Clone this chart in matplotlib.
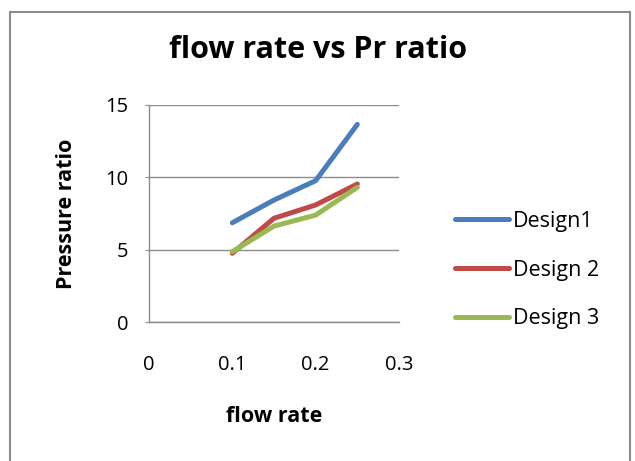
import matplotlib.pyplot as plt
from matplotlib.patches import Rectangle

flow = [0.1, 0.15, 0.2, 0.25]
design1 = [6.86, 8.43, 9.77, 13.66]
design2 = [4.75, 7.17, 8.09, 9.54]
design3 = [4.86, 6.63, 7.39, 9.31]
names = ['Design1', 'Design 2', 'Design 3']
colors = ['#4a7ebb', '#be4b48', '#98b954']

plt.rcParams['font.family'] = ['Open Sans', 'DejaVu Sans']

W, H = 635, 461
fig = plt.figure(figsize=(W / 100, H / 100), dpi=100)
fig.patches.append(Rectangle((10 / W, -0.01), 620 / W, 1 - 12 / H + 0.01,
                             transform=fig.transFigure, fill=False,
                             edgecolor='#8c8c8c', linewidth=1.5))

ax = fig.add_axes([149 / W, 1 - 322 / H, 250 / W, 217 / H])
for ys, name, c in zip([design1, design2, design3], names, colors):
    ax.plot(flow, ys, color=c, linewidth=3.6, label=name, solid_capstyle='round')

ax.set_xlim(0, 0.3)
ax.set_ylim(0, 15)
ax.set_xticks([0, 0.1, 0.2, 0.3])
ax.set_xticklabels(['0', '0.1', '0.2', '0.3'])
ax.set_yticks([0, 5, 10, 15])
ax.grid(axis='y', color='#8c8c8c', linewidth=1)
ax.set_axisbelow(True)
for s in ['top', 'right']:
    ax.spines[s].set_visible(False)
for s in ['left', 'bottom']:
    ax.spines[s].set_color('#8c8c8c')
    ax.spines[s].set_linewidth(1)
ax.tick_params(axis='y', length=3, color='#8c8c8c', labelsize=14.5, pad=12)
ax.tick_params(axis='x', length=0, labelsize=14.5, pad=24)

ax.set_xlabel('flow rate', fontsize=15.5, fontweight='bold', labelpad=22)
ax.set_ylabel('Pressure ratio', fontsize=15.5, fontweight='bold', labelpad=20)
fig.text(318 / W, 1 - 50 / H, 'flow rate vs Pr ratio', fontsize=22,
         fontweight='bold', ha='center', va='center')

fig.legend(loc='center left', bbox_to_anchor=(455 / W, 1 - 270 / H),
           frameon=False, fontsize=15.5, handlelength=2.5, labelspacing=1.3,
           handletextpad=0.2, borderpad=0, borderaxespad=0)

fig.savefig('out.png', dpi=100)
